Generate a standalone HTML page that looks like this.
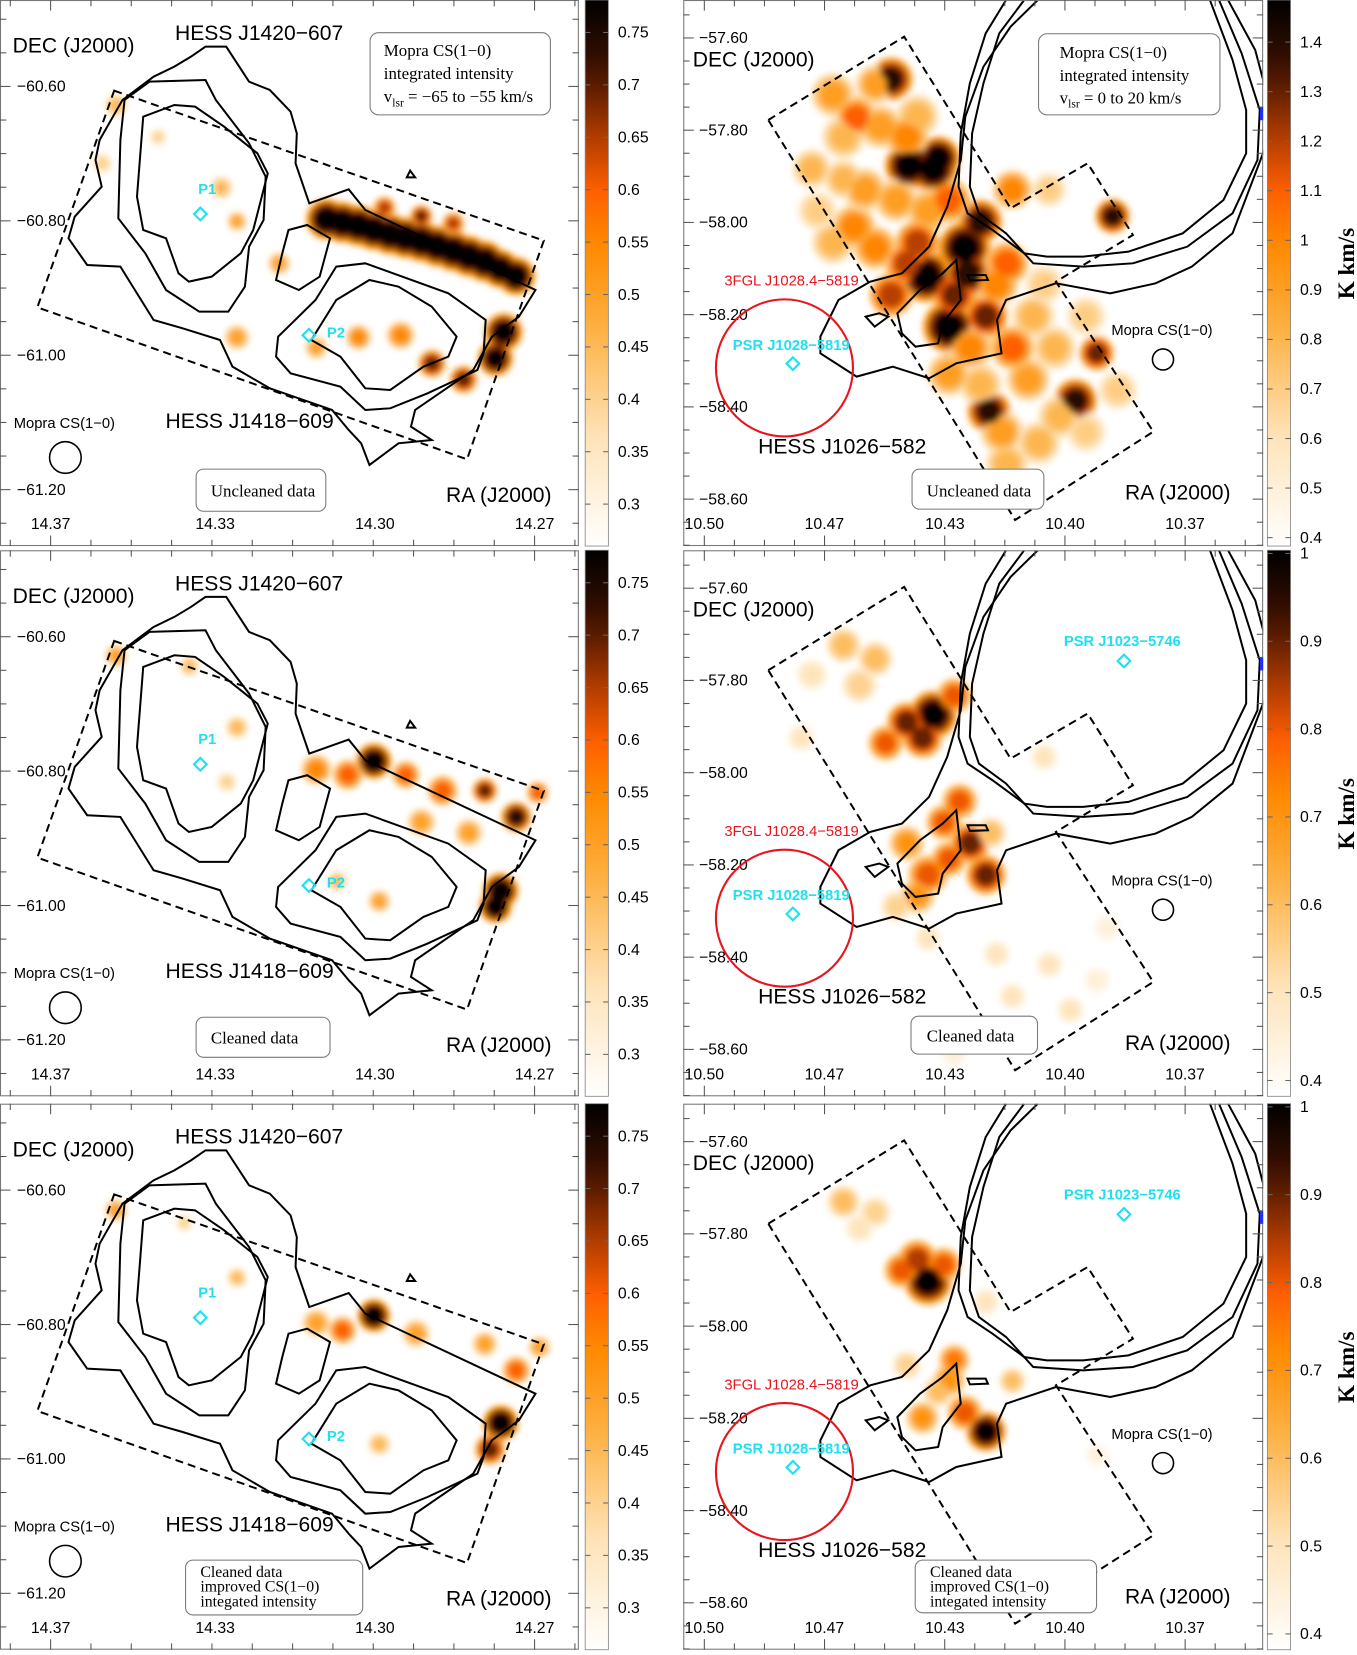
<!DOCTYPE html>
<html><head><meta charset="utf-8">
<style>html,body{margin:0;padding:0;background:#fff}svg{display:block}</style>
</head><body>
<svg id="fig" xmlns="http://www.w3.org/2000/svg" width="1357" height="1655" viewBox="0 0 1287 1570" preserveAspectRatio="none">
<defs>
<filter id="blur" x="-20%" y="-20%" width="140%" height="140%"><feGaussianBlur stdDeviation="3"/></filter>
</defs>
</svg>
<script>
// ---------- data ----------
const raTicksL=[14.367,14.333,14.300,14.267];
const raLabelsL=['14.37','14.33','14.30','14.27'];
const decTicksL=[-60.6,-60.8,-61.0,-61.2];
const decLabelsL=['\u221260.60','\u221260.80','\u221261.00','\u221261.20'];
const raTicksR=[10.5,10.4667,10.4333,10.4,10.3667];
const raLabelsR=['10.50','10.47','10.43','10.40','10.37'];
const decTicksR=[-57.6,-57.8,-58.0,-58.2,-58.4,-58.6];
const decLabelsR=['\u221257.60','\u221257.80','\u221258.00','\u221258.20','\u221258.40','\u221258.60'];
const cbTicksL=[0.75,0.7,0.65,0.6,0.55,0.5,0.45,0.4,0.35,0.3];
const cbLabelsL=['0.75','0.7','0.65','0.6','0.55','0.5','0.45','0.4','0.35','0.3'];
const cbTicksR1=[1.4,1.3,1.2,1.1,1.0,0.9,0.8,0.7,0.6,0.5,0.4];
const cbLabelsR1=['1.4','1.3','1.2','1.1','1','0.9','0.8','0.7','0.6','0.5','0.4'];
const cbTicksR2=[1.0,0.9,0.8,0.7,0.6,0.5,0.4];
const cbLabelsR2=['1','0.9','0.8','0.7','0.6','0.5','0.4'];
const cbRangeL=[0.26,0.781];
const cbRangeR1=[0.383,1.485];
const cbRangeR2=[0.382,1.0036];
// blobs: [ra, dec, K km/s, size arcmin]
const blobsL1=[[14.3100,-60.7976,.8,1.5],[14.3034,-60.8071,.8,1.5],[14.2969,-60.8196,.8,1.5],[14.2904,-60.8306,.8,1.5],[14.2838,-60.8447,.8,1.5],[14.2773,-60.8604,.8,1.5],[14.2708,-60.8824,.8,1.4],
[14.3067,-60.8024,.8,1.5],[14.3002,-60.8134,.8,1.5],[14.2937,-60.8251,.8,1.5],[14.2871,-60.8377,.8,1.5],[14.2806,-60.8526,.8,1.5],[14.2741,-60.8714,.8,1.4],
[14.2980,-60.7804,.65,0.8],[14.2904,-60.7929,.7,0.8],[14.2838,-60.8039,.65,0.8],
[14.2734,-60.9655,.78,1.4],[14.2751,-61.0047,.78,1.3],[14.2817,-61.0361,.7,1.0],[14.2882,-61.0126,.7,1.0],[14.3285,-60.9733,.5,0.9],[14.2947,-60.9702,.55,1.0],[14.3121,-60.9890,.5,0.8],[14.3034,-60.9733,.55,0.9],[14.3198,-60.8635,.5,0.8],[14.3535,-60.6282,.45,0.8],[14.3285,-60.8008,.5,0.7],[14.3448,-60.6753,.4,0.6],[14.3317,-60.7506,.45,0.8],[14.3563,-60.7145,.4,0.7]];
const blobsL2=[[14.3002,-60.7851,.8,1.3],[14.3056,-60.8055,.6,1.1],[14.3121,-60.7976,.55,1.1],[14.2936,-60.8055,.6,1.0],[14.2860,-60.8290,.6,1.1],[14.2773,-60.8290,.7,0.9],[14.2708,-60.8682,.75,1.1],[14.2664,-60.8322,.6,0.8],[14.2740,-60.9780,.8,1.3],[14.2751,-61.0016,.8,1.2],[14.2806,-60.8918,.5,1.0],[14.2904,-60.8761,.5,1.0],[14.2991,-60.9937,.5,0.8],[14.3078,-60.9639,.45,0.7],[14.3285,-60.7349,.45,0.8],[14.3383,-60.6439,.45,0.7],[14.3535,-60.6282,.5,0.8],[14.3306,-60.8165,.4,0.7]];
const blobsL3=[[14.3002,-60.7867,.8,1.2],[14.3067,-60.8086,.6,1.0],[14.3121,-60.7976,.5,1.0],[14.2915,-60.8133,.5,1.0],[14.2773,-60.8290,.5,0.9],[14.2708,-60.8682,.6,1.0],[14.2660,-60.8337,.5,0.8],[14.2740,-60.9467,.8,1.3],[14.2762,-60.9859,.7,1.1],[14.2991,-60.9780,.45,0.8],[14.3535,-60.6298,.5,0.8],[14.3285,-60.7302,.45,0.7],[14.3394,-60.6486,.4,0.6]];
const blobsR1=[[10.4482,-57.6891,1.4,2.0],[10.4433,-57.8766,1.5,2.2],[10.4365,-57.8834,1.5,2.2],[10.4351,-57.8606,1.5,2.0],[10.4234,-57.9977,1.4,2.0],[10.4278,-58.0549,1.5,2.4],[10.4386,-58.1166,1.5,2.4],[10.4322,-58.2263,1.5,2.4],[10.4219,-58.2034,1.3,2.0],[10.4269,-58.1120,1.4,2.2],[10.4439,-58.0891,1.2,2.0],[10.3971,-58.3863,1.4,2.0],[10.4211,-58.4091,1.4,2.0],[10.3868,-57.9863,1.4,1.6],[10.3912,-58.2834,1.3,1.6],
[10.4579,-57.7737,1.1,2.0],[10.4643,-57.7234,0.9,2.0],[10.4614,-57.8149,0.8,2.0],[10.4702,-57.8834,0.8,1.8],[10.4643,-58.0434,0.8,2.0],[10.4585,-58.0091,1.0,2.0],[10.4687,-57.9749,0.7,1.8],[10.4512,-57.7920,0.9,2.0],[10.4409,-57.7691,0.8,2.0],[10.4468,-57.9520,0.9,2.0],[10.4380,-57.9749,0.9,2.0],[10.4161,-58.0891,1.1,2.0],[10.4088,-58.2034,0.8,2.0],[10.4029,-58.2720,0.8,2.0],[10.4102,-58.3406,0.9,2.0],[10.4015,-58.4206,0.8,2.0],[10.4175,-58.4549,0.9,2.0],[10.4161,-58.5234,0.8,2.0],[10.3942,-58.2034,0.7,1.8],[10.4482,-58.1577,1.2,2.0],[10.4044,-57.9291,0.7,1.6],[10.4146,-57.9291,1.0,1.8],[10.4263,-58.2720,1.0,2.0],[10.4322,-58.3291,0.9,2.0],[10.3854,-58.3634,0.7,1.8],[10.4234,-58.3520,0.8,2.0],
[10.4556,-57.9291,0.9,2.0],[10.4526,-58.0549,1.0,2.0],[10.4409,-58.0434,1.2,2.0],[10.4307,-58.1577,1.3,2.0],[10.4190,-58.1349,1.0,2.0],[10.4146,-58.2720,1.1,2.0],[10.4073,-58.4777,0.8,2.0],[10.3942,-58.4549,0.7,1.8],[10.4058,-58.1349,0.7,1.8],[10.4526,-57.7006,0.9,1.8],[10.4439,-57.8149,1.0,2.0],[10.4322,-57.9520,1.1,2.0],[10.4614,-57.9063,0.8,1.8]];
const blobsR2=[[10.4365,-57.8743,1.0,2.2],[10.4439,-57.8903,0.9,1.8],[10.4307,-57.8331,0.8,1.6],[10.4497,-57.9360,0.8,1.6],[10.4395,-57.9246,0.9,1.8],[10.4614,-57.7234,0.6,1.6],[10.4526,-57.7531,0.6,1.6],[10.4570,-57.8103,0.55,1.6],[10.4702,-57.7874,0.5,1.4],[10.4292,-58.0617,0.8,1.6],[10.4263,-58.1531,0.9,1.8],[10.4336,-58.1074,0.8,1.6],[10.4219,-58.2217,0.9,1.8],[10.4380,-58.2217,0.8,1.8],[10.4322,-58.1874,0.8,1.6],[10.4439,-58.1531,0.7,1.6],[10.4409,-58.2674,0.7,1.6],[10.4468,-58.2903,0.55,1.4],[10.4205,-58.1303,0.6,1.4],[10.4058,-57.9657,0.5,1.2],[10.4190,-58.3931,0.5,1.2],[10.4044,-58.4160,0.5,1.2],[10.4146,-58.4846,0.5,1.2],[10.3985,-58.5143,0.5,1.2],[10.3912,-58.4503,0.45,1.2],[10.3883,-58.3360,0.45,1.2],[10.4307,-58.6103,0.45,1.2],[10.4380,-58.3589,0.5,1.2],[10.4731,-57.9246,0.5,1.2]];
const blobsR3=[[10.4380,-57.9017,1.0,2.2],[10.4409,-57.8560,0.85,1.8],[10.4453,-57.8789,0.8,1.6],[10.4336,-57.8674,0.8,1.6],[10.4614,-57.7303,0.6,1.5],[10.4526,-57.7531,0.55,1.4],[10.4570,-57.7874,0.5,1.3],[10.4219,-58.2286,1.0,1.8],[10.4278,-58.1874,0.8,1.6],[10.4322,-58.1189,0.7,1.5],[10.4395,-58.1989,0.7,1.5],[10.4307,-58.0731,0.75,1.4],[10.4351,-58.1417,0.6,1.4],[10.4146,-58.1189,0.6,1.2],[10.4439,-58.0846,0.55,1.3],[10.4219,-57.9474,0.5,1.2],[10.3912,-58.2789,0.45,1.0]];

// ---------- helpers ----------
const NS='http://www.w3.org/2000/svg';
const svg=document.getElementById('fig');
const defs=svg.querySelector('defs');
function mk(tag,attrs,parent,name){
  const el=document.createElementNS(NS,tag);
  for(const k in attrs) el.setAttribute(k,attrs[k]);
  
  
  parent.appendChild(el);return el;
}
function txt(x,y,s,size,parent,name,opt){
  opt=opt||{};
  const t=mk('text',{x:x,y:y,'font-size':size,'font-family':opt.serif?'"Liberation Serif",serif':'"Liberation Sans",sans-serif',fill:opt.fill||'#000','text-anchor':opt.anchor||'start','font-weight':opt.bold?'bold':'normal'},parent,name);
  if(opt.rot) t.setAttribute('transform','rotate('+opt.rot+' '+x+' '+y+')');
  t.textContent=s;return t;
}
const CM=[[0,[255,255,255]],[0.2,[254,227,184]],[0.4,[253,176,66]],[0.55,[255,138,0]],[0.65,[255,95,0]],[0.76,[168,56,0]],[0.88,[58,16,0]],[1,[0,0,0]]];
function cmap(t){t=Math.max(0,Math.min(1,t));for(let i=1;i<CM.length;i++){if(t<=CM[i][0]){const a=CM[i-1],b=CM[i];const f=(t-a[0])/(b[0]-a[0]);const c=a[1].map((v,j)=>Math.round(v+(b[1][j]-v)*f));return 'rgb('+c.join(',')+')';}}return '#000';}
const rowTops=[0,522,1047];
function xL(ra){return 48+(14.367-ra)/0.03333*153;}
function yL(dec,top){return top+82+(-60.6-dec)/0.2*127.5;}
function xR(ra){return 668+(10.5-ra)/0.03333*114;}
function yR(dec,top){return top+36+(-57.6-dec)/0.2*87.5;}
const pxPerArcL=127.5/12*1.2, pxPerArcR=87.5/12*1.4;

function gradient(id){
  const g=mk('linearGradient',{id:id,x1:0,y1:1,x2:0,y2:0},defs,'colormap-gradient');
  for(let i=0;i<=20;i++){mk('stop',{offset:(i/20),'stop-color':cmap(i/20)},g,'gradient-stop');}
}
gradient('cmg');

const leftContours=[
'M495,140 L545,140 L600,245 L650,270 L700,335 L715,400 L712,490 L745,610 L840,568 L880,630 L1290,870 L1250,950 L1185,1010 L1140,1110 L1000,1230 L990,1280 L1040,1320 L960,1330 L890,1395 L870,1330 L840,1290 L800,1230 L650,1165 L560,1100 L530,1020 L440,985 L370,960 L310,840 L290,800 L210,795 L165,715 L180,650 L245,560 L230,480 L240,420 L295,300 L370,230 L420,200 L460,170 Z',
'M285,655 L290,420 L300,300 L360,245 L495,240 L520,300 L600,430 L640,530 L635,660 L600,740 L590,860 L550,935 L480,935 L400,870 L350,760 Z',
'M345,350 L420,315 L470,320 L540,380 L620,460 L645,520 L610,690 L580,760 L510,830 L455,845 L430,820 L400,715 L345,690 L330,590 Z',
'M695,690 L740,675 L795,715 L770,830 L720,870 L665,840 L680,760 Z',
'M810,800 L880,790 L1080,880 L1170,960 L1165,1060 L1150,1110 L1030,1180 L940,1225 L880,1230 L820,1160 L700,1120 L665,1070 L670,1010 L760,900 Z',
'M890,840 L960,860 L1040,920 L1100,1010 L1080,1070 L1020,1100 L940,1170 L880,1165 L820,1070 L750,1020 L810,900 Z',
'M980,532 L988,512 L1000,532 Z'];
const leftBox='M275,272 L1310,722 L1125,1378 L90,922 Z';
const rightContours=[
'M790,0 L745,100 L710,250 L690,400 L685,560 L705,640 L760,690 L830,760 L880,770 L960,770 L1060,755 L1180,700 L1270,600 L1320,460 L1320,330 L1290,180 L1240,0',
'M830,0 L775,100 L740,250 L715,400 L710,560 L730,640 L790,700 L850,790 L960,800 L1070,790 L1190,740 L1290,640 L1345,480 L1350,330 L1310,160 L1260,0',
'M1280,0 L1340,150 L1375,330 L1360,450 L1290,700 L1200,800 L1120,850 L1020,880 L900,850 L790,900 L770,960 L780,1060 L680,1090 L620,1135 L540,1100 L460,1130 L380,1060 L380,1010 L420,900 L490,845 L560,820 L620,740 L660,620 L690,480 L700,350 L740,200 L800,80 L860,0',
'M550,940 L600,870 L650,820 L680,780 L690,900 L650,970 L640,1030 L590,1040 L560,1000 Z',
'M480,950 L510,940 L530,950 L500,980 Z',
'M705,825 L745,825 L750,840 L710,842 Z'];
const rightBox='M265,360 L565,110 L800,625 L970,490 L1070,705 L900,845 L1115,1295 L810,1560 Z';

function drawBlobs(g,blobs,xf,yf,top,ppa,range){
  const layers=[[1.0,0.5],[0.8,0.8],[0.58,1.0]];
  const bg=mk('g',{filter:'url(#blur)'},g,'emission-map');
  layers.forEach(L=>{
    blobs.forEach(b=>{
      const t=(b[2]-range[0])/(range[1]-range[0]);
      mk('circle',{cx:xf(b[0]).toFixed(1),cy:yf(b[1],top).toFixed(1),r:(b[3]*ppa*L[0]).toFixed(1),fill:cmap(t*L[1])},bg,'emission-clump');
    });
  });
}
function colorbar(x,top,range,ticks,labels){
  const g=mk('g',{},svg,'colorbar');
  mk('rect',{x:x,y:top,width:22,height:518,fill:'url(#cmg)',stroke:'#888','stroke-width':0.8},g,'colorbar-gradient');
  ticks.forEach((v,i)=>{
    const y=top+(range[1]-v)/(range[1]-range[0])*518;
    mk('line',{x1:x,x2:x+5,y1:y,y2:y,stroke:'#666','stroke-width':1},g,'colorbar-tick');
    mk('line',{x1:x+17,x2:x+22,y1:y,y2:y,stroke:'#666','stroke-width':1},g,'colorbar-tick');
    txt(x+31,y+5,labels[i],15,g,'colorbar-label');
  });
}
function panel(side,row){
  const top=rowTops[row];
  const x0=side==='L'?0:648, x1=side==='L'?549:1198;
  const g=mk('g',{},svg,side==='L'?'hess-j1420-panel':'hess-j1026-panel');
  const cid='clip'+side+row;
  const cp=mk('clipPath',{id:cid},defs,'panel-clip');
  mk('rect',{x:x0,y:top,width:x1-x0,height:518},cp,'clip-rect');
  const inner=mk('g',{'clip-path':'url(#'+cid+')'},g,'map-area');
  mk('rect',{x:x0,y:top,width:x1-x0,height:518,fill:'#fff'},inner,'map-background');
  if(side==='L'){
    drawBlobs(inner,[blobsL1,blobsL2,blobsL3][row],xL,yL,top,pxPerArcL,cbRangeL);
    const cg=mk('g',{transform:'translate(0 '+top+') scale(0.3937 0.3162)',fill:'none',stroke:'#000'},inner,'tev-contours');
    leftContours.forEach(d=>{mk('path',{d:d,'stroke-width':2,'vector-effect':'non-scaling-stroke'},cg,'hess-significance-contour');});
    mk('path',{d:leftBox,'stroke-width':2,'stroke-dasharray':'8 5','vector-effect':'non-scaling-stroke'},cg,'mopra-coverage-box');
  } else {
    drawBlobs(inner,[blobsR1,blobsR2,blobsR3][row],xR,yR,top,pxPerArcR,row===0?cbRangeR1:cbRangeR2);
    const cg=mk('g',{transform:'translate(614.8 '+top+') scale(0.4296 0.3162)',fill:'none',stroke:'#000'},inner,'tev-contours');
    rightContours.forEach(d=>{mk('path',{d:d,'stroke-width':2,'vector-effect':'non-scaling-stroke'},cg,'hess-significance-contour');});
    mk('path',{d:rightBox,'stroke-width':2,'stroke-dasharray':'8 5','vector-effect':'non-scaling-stroke'},cg,'mopra-coverage-box');
  }
  mk('rect',{x:x0+0.5,y:top+0.5,width:x1-x0-1,height:517,fill:'none',stroke:'#777','stroke-width':1},g,'panel-frame');
  const tg=mk('g',{stroke:'#555','stroke-width':1},g,'axis-ticks');
  const xs=side==='L'?raTicksL.map(xL):raTicksR.map(xR);
  const step=side==='L'?38.25:28.5;
  for(let xx=xs[0]-step*2; xx<x1; xx+=step){ if(xx<=x0) continue;
    const major=xs.some(v=>Math.abs(v-xx)<1);
    mk('line',{x1:xx,x2:xx,y1:top,y2:top+(major?10:6)},tg,'ra-tick');
    mk('line',{x1:xx,x2:xx,y1:top+518,y2:top+518-(major?10:6)},tg,'ra-tick');}
  const ys=side==='L'?decTicksL.map(d=>yL(d,top)):decTicksR.map(d=>yR(d,top));
  const ystep=side==='L'?31.875:21.875;
  for(let yy=ys[0]-ystep*4; yy<top+518; yy+=ystep){ if(yy<=top) continue;
    const major=ys.some(v=>Math.abs(v-yy)<1);
    mk('line',{x1:x0,x2:x0+(major?10:6),y1:yy,y2:yy},tg,'dec-tick');
    mk('line',{x1:x1,x2:x1-(major?10:6),y1:yy,y2:yy},tg,'dec-tick');}
  const labs=side==='L'?raLabelsL:raLabelsR;
  xs.forEach((x,i)=>txt(x,top+502,labs[i],15,g,'ra-tick-label',{anchor:'middle'}));
  const dl=side==='L'?decLabelsL:decLabelsR;
  ys.forEach((y,i)=>txt(side==='L'?16:663,y+5,dl[i],15,g,'dec-tick-label'));
  if(side==='L'){
    txt(12,top+50,'DEC (J2000)',20,g,'dec-axis-title');
    txt(166,top+38,'HESS J1420\u2212607',20,g,'source-label-j1420');
    txt(157,top+406,'HESS J1418\u2212609',20,g,'source-label-j1418');
    txt(423,top+476,'RA (J2000)',20,g,'ra-axis-title');
    txt(13,top+406,'Mopra CS(1\u22120)',14,g,'beam-label');
    mk('circle',{cx:62,cy:top+434,r:15,fill:'none',stroke:'#000','stroke-width':1.5},g,'mopra-beam');
    txt(188,top+184,'P1',14,g,'p1-label',{fill:'#1ee0f0',bold:true});
    mk('path',{d:'M190 '+(top+197)+' l6 6 l-6 6 l-6 -6 z',fill:'none',stroke:'#1ee0f0','stroke-width':2},g,'p1-marker');
    txt(310,top+320,'P2',14,g,'p2-label',{fill:'#1ee0f0',bold:true});
    mk('path',{d:'M293 '+(top+312)+' l6 6 l-6 6 l-6 -6 z',fill:'none',stroke:'#1ee0f0','stroke-width':2},g,'p2-marker');
    if(row===0){
      mk('rect',{x:351,y:31,width:171,height:78,rx:8,fill:'#fff',stroke:'#777'},g,'legend-box');
      txt(364,53,'Mopra CS(1\u22120)',16,g,'legend-line',{serif:true});
      txt(364,75,'integrated intensity',16,g,'legend-line',{serif:true});
      const t=txt(364,97,'v',16,g,'legend-line',{serif:true});
      const s1=mk('tspan',{'font-size':11,dy:4},t,'subscript');s1.textContent='lsr';
      const s2=mk('tspan',{dy:-4},t,'legend-text');s2.textContent=' = \u221265 to \u221255 km/s';
      mk('rect',{x:186,y:445,width:123,height:40,rx:7,fill:'#fff',stroke:'#777'},g,'data-label-box');
      txt(200,471,'Uncleaned data',16,g,'data-label',{serif:true});
    } else if(row===1){
      mk('rect',{x:186,y:top+443,width:127,height:38,rx:7,fill:'#fff',stroke:'#777'},g,'data-label-box');
      txt(200,top+468,'Cleaned data',16,g,'data-label',{serif:true});
    } else {
      mk('rect',{x:176,y:top+433,width:168,height:52,rx:7,fill:'#fff',stroke:'#777'},g,'data-label-box');
      txt(190,top+449,'Cleaned data',15,g,'data-label',{serif:true});
      txt(190,top+463,'improved CS(1\u22120)',15,g,'data-label',{serif:true});
      txt(190,top+477,'integated intensity',15,g,'data-label',{serif:true});
    }
  } else {
    txt(657,top+63,'DEC (J2000)',20,g,'dec-axis-title');
    txt(719,top+430,'HESS J1026\u2212582',20,g,'source-label-j1026');
    txt(1067,top+474,'RA (J2000)',20,g,'ra-axis-title');
    txt(1054,top+318,'Mopra CS(1\u22120)',14,g,'beam-label');
    mk('circle',{cx:1103,cy:top+341,r:10,fill:'none',stroke:'#000','stroke-width':1.5},g,'mopra-beam');
    mk('circle',{cx:744,cy:top+349,r:65,fill:'none',stroke:'#e8141e','stroke-width':2},g,'fermi-error-circle');
    txt(687,top+271,'3FGL J1028.4\u22125819',14,g,'fermi-source-label',{fill:'#e8141e'});
    txt(695,top+332,'PSR J1028\u22125819',14,g,'pulsar-label',{fill:'#1ee0f0',bold:true});
    mk('path',{d:'M752 '+(top+339)+' l6 6 l-6 6 l-6 -6 z',fill:'none',stroke:'#1ee0f0','stroke-width':2},g,'pulsar-marker');
    mk('rect',{x:1195,y:top+102,width:3,height:12,fill:'#2030ff'},g,'offscreen-marker');
    if(row===0){
      mk('rect',{x:985,y:32,width:172,height:77,rx:8,fill:'#fff',stroke:'#777'},g,'legend-box');
      txt(1005,55,'Mopra CS(1\u22120)',16,g,'legend-line',{serif:true});
      txt(1005,77,'integrated intensity',16,g,'legend-line',{serif:true});
      const t=txt(1005,98,'v',16,g,'legend-line',{serif:true});
      const s1=mk('tspan',{'font-size':11,dy:4},t,'subscript');s1.textContent='lsr';
      const s2=mk('tspan',{dy:-4},t,'legend-text');s2.textContent=' = 0 to 20 km/s';
      mk('rect',{x:865,y:445,width:125,height:38,rx:7,fill:'#fff',stroke:'#777'},g,'data-label-box');
      txt(879,471,'Uncleaned data',16,g,'data-label',{serif:true});
    } else {
      txt(1009,top+91,'PSR J1023\u22125746',14,g,'pulsar-label-j1023',{fill:'#1ee0f0',bold:true});
      mk('path',{d:'M1066 '+(top+99)+' l6 6 l-6 6 l-6 -6 z',fill:'none',stroke:'#1ee0f0','stroke-width':2},g,'pulsar-marker-j1023');
      if(row===1){
        mk('rect',{x:864,y:top+442,width:120,height:36,rx:7,fill:'#fff',stroke:'#777'},g,'data-label-box');
        txt(879,top+466,'Cleaned data',16,g,'data-label',{serif:true});
      } else {
        mk('rect',{x:868,y:top+433,width:172,height:50,rx:7,fill:'#fff',stroke:'#777'},g,'data-label-box');
        txt(882,top+449,'Cleaned data',15,g,'data-label',{serif:true});
        txt(882,top+463,'improved CS(1\u22120)',15,g,'data-label',{serif:true});
        txt(882,top+477,'integated intensity',15,g,'data-label',{serif:true});
      }
    }
  }
}
for(let r=0;r<3;r++){
  panel('L',r);panel('R',r);
  colorbar(555,rowTops[r],cbRangeL,cbTicksL,cbLabelsL);
  if(r===0) colorbar(1202,0,cbRangeR1,cbTicksR1,cbLabelsR1);
  else colorbar(1202,rowTops[r],cbRangeR2,cbTicksR2,cbLabelsR2);
  txt(1284,rowTops[r]+250,'K km/s',22,svg,'colorbar-unit-label',{serif:true,bold:true,anchor:'middle',rot:-90});
}
</script>
</body></html>
